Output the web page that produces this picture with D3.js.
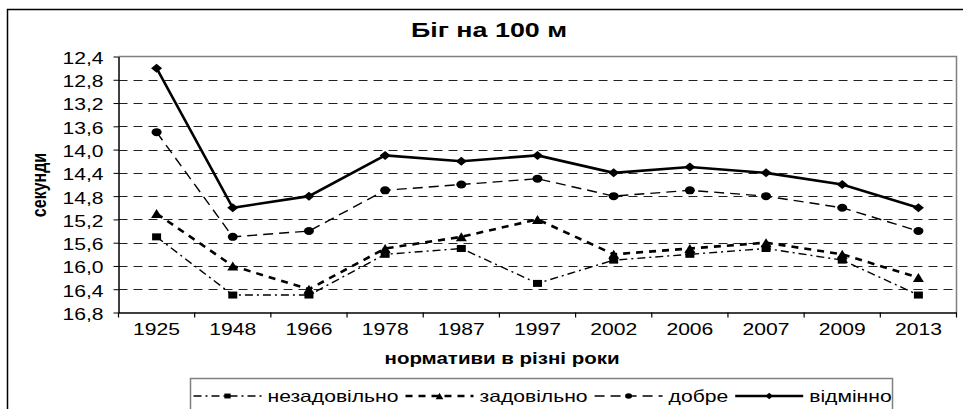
<!DOCTYPE html>
<html>
<head>
<meta charset="utf-8">
<script src="https://cdn.jsdelivr.net/npm/d3@7"></script>
<style>
  html, body { margin: 0; padding: 0; background: #fff; }
  svg { display: block; font-family: "Liberation Sans", Arial, sans-serif; }
</style>
</head>
<body>
<svg id="chart" width="963" height="409"></svg>
<script>
// Data (seconds, smaller = better)
const years = ["1925", "1948", "1966", "1978", "1987", "1997", "2002", "2006", "2007", "2009", "2013"];
const yTicks = [12.4, 12.8, 13.2, 13.6, 14.0, 14.4, 14.8, 15.2, 15.6, 16.0, 16.4, 16.8];
const seriesNames = ["незадовільно", "задовільно", "добре", "відмінно"];
const unsatisfactory = [15.5, 16.5, 16.5, 15.8, 15.7, 16.3, 15.9, 15.8, 15.7, 15.9, 16.5];
const satisfactory   = [15.1, 16.0, 16.4, 15.7, 15.5, 15.2, 15.8, 15.7, 15.6, 15.8, 16.2];
const good           = [13.7, 15.5, 15.4, 14.7, 14.6, 14.5, 14.8, 14.7, 14.8, 15.0, 15.4];
const excellent      = [12.6, 15.0, 14.8, 14.1, 14.2, 14.1, 14.4, 14.3, 14.4, 14.6, 15.0];

const SX = 1.28; // the source picture is stretched horizontally, text and markers too
const PLOT = { left: 118.5, right: 956.5, top: 56.5, bottom: 312.5 };

//Line and marker style for each series
const STYLES = [
  { values: unsatisfactory, dash: "8,4,2,4", width: 1.4, marker: "square", mw: 9, mh: 7 },
  { values: satisfactory,   dash: "7,6",     width: 2.6, marker: "triangle", mw: 11, mh: 9 },
  { values: good,           dash: "10,6",    width: 1.4, marker: "circle", mw: 10, mh: 8 },
  { values: excellent,      dash: null,      width: 2.6, marker: "diamond", mw: 11, mh: 9 }
];

const svg = d3.select("#chart");

//Outer chart frame (runs off the right/bottom edge)
svg.append("rect")
  .attr("x", 7.5).attr("y", 9.5)
  .attr("width", 1000).attr("height", 500)
  .attr("fill", "none")
  .attr("stroke", "#000")
  .attr("stroke-width", 1.5);

const x = d3.scaleBand().domain(years).range([PLOT.left, PLOT.right]).padding(0);
const y = d3.scaleLinear().domain([12.4, 16.8]).range([PLOT.top, PLOT.bottom]);
const cx = d => x(d) + x.bandwidth() / 2;
const fmt = d => d3.format(".1f")(d).replace(".", ",");

//Text that is widened like the original
function stretchedText(parent, px, py, str, size, weight, anchor) {
  return parent.append("text")
    .attr("transform", `translate(${px},${py}) scale(${SX},1)`)
    .attr("font-size", size)
    .attr("font-weight", weight || "normal")
    .attr("text-anchor", anchor || "middle")
    .attr("fill", "#000")
    .text(str);
}

function markerPath(type, w, h) {
  const a = w / 2, b = h / 2;
  if (type === "square") return `M${-a},${-b}H${a}V${b}H${-a}Z`;
  if (type === "triangle") return `M0,${-b}L${a},${b}L${-a},${b}Z`;
  if (type === "diamond") return `M0,${-b}L${a},0L0,${b}L${-a},0Z`;
  return "";
}

function drawMarker(parent, type, mx, my, w, h) {
  if (type === "circle") {
    parent.append("ellipse")
      .attr("cx", mx).attr("cy", my)
      .attr("rx", w / 2).attr("ry", h / 2)
      .attr("fill", "#000");
  } else {
    parent.append("path")
      .attr("transform", `translate(${mx},${my})`)
      .attr("d", markerPath(type, w, h))
      .attr("fill", "#000");
  }
}

//Title
stretchedText(svg, 489, 37, "Біг на 100 м", 21, "bold");

//Gridlines
svg.append("g")
  .selectAll("line")
  .data(yTicks.slice(1, -1))
  .enter()
  .append("line")
  .attr("x1", PLOT.left).attr("x2", PLOT.right)
  .attr("y1", d => Math.round(y(d)) + 0.5).attr("y2", d => Math.round(y(d)) + 0.5)
  .attr("stroke", "#222")
  .attr("stroke-width", 1)
  .attr("stroke-dasharray", "9,6");

//Plot area border (top and right)
svg.append("path")
  .attr("d", `M${PLOT.left},${PLOT.top}H${PLOT.right}V${PLOT.bottom}`)
  .attr("fill", "none")
  .attr("stroke", "#808080")
  .attr("stroke-width", 1.5);

//Y axis
const yAxis = d3.axisLeft(y)
  .tickValues(yTicks)
  .tickSize(5)
  .tickSizeOuter(0)
  .tickFormat(fmt);

const yG = svg.append("g")
  .attr("transform", `translate(${PLOT.left},0)`)
  .call(yAxis);
yG.select(".domain").attr("stroke", "#000").attr("stroke-width", 1.5);
yG.selectAll(".tick line").attr("stroke", "#000");
yG.selectAll(".tick text")
  .attr("font-family", null)
  .attr("font-size", 16.5)
  .attr("fill", "#000")
  .attr("x", -15 / SX)
  .attr("dy", "0.42em")
  .attr("transform", `scale(${SX},1)`);

//X axis: labels at centres, ticks between categories
const xAxis = d3.axisBottom(x).tickSize(0).tickSizeOuter(0).tickPadding(11);
const xG = svg.append("g")
  .attr("transform", `translate(0,${PLOT.bottom})`)
  .call(xAxis);
xG.select(".domain").attr("stroke", "#000").attr("stroke-width", 1.5);
xG.selectAll(".tick text")
  .attr("font-family", null)
  .attr("font-size", 16.5)
  .attr("fill", "#000")
  .attr("transform", `scale(${SX},1)`);

const boundaries = years.map(d => x(d)).concat([x(years[years.length - 1]) + x.bandwidth()]);
xG.selectAll(".sep")
  .data(boundaries)
  .enter()
  .append("line")
  .attr("class", "sep")
  .attr("x1", d => d).attr("x2", d => d)
  .attr("y1", 0).attr("y2", 5)
  .attr("stroke", "#000")
  .attr("stroke-width", 1.2);

//Axis titles
stretchedText(svg, 502, 364, "нормативи в різні роки", 16, "bold");
svg.append("text")
  .attr("transform", `translate(46,185) scale(${SX},1) rotate(-90)`)
  .attr("font-size", 16)
  .attr("font-weight", "bold")
  .attr("text-anchor", "middle")
  .text("секунди");

//Series lines and markers
const line = d3.line()
  .x((d, i) => cx(years[i]))
  .y(d => y(d));

STYLES.forEach(s => {
  const g = svg.append("g");
  g.append("path")
    .datum(s.values)
    .attr("d", line)
    .attr("fill", "none")
    .attr("stroke", "#000")
    .attr("stroke-width", s.width)
    .attr("stroke-dasharray", s.dash);
  s.values.forEach((v, i) => drawMarker(g, s.marker, cx(years[i]), y(v), s.mw, s.mh));
});

//Legend
const LEG = { x: 190.5, y: 378.5, w: 702 };
const leg = svg.append("g");
leg.append("rect")
  .attr("x", LEG.x).attr("y", LEG.y)
  .attr("width", LEG.w).attr("height", 100)
  .attr("fill", "#fff")
  .attr("stroke", "#808080")
  .attr("stroke-width", 1.5);

let lx = LEG.x + 3;
const ly = 396;
seriesNames.forEach((name, i) => {
  const s = STYLES[i];
  const symW = 68;
  leg.append("line")
    .attr("x1", lx).attr("x2", lx + symW)
    .attr("y1", ly).attr("y2", ly)
    .attr("stroke", "#000")
    .attr("stroke-width", s.width)
    .attr("stroke-dasharray", s.dash);
  drawMarker(leg, s.marker, lx + symW / 2, ly, s.mw * 0.7, s.mh * 0.7);
  const t = stretchedText(leg, lx + symW + 6, 401.5, name, 16.5, "normal", "start");
  lx += symW + 6 + t.node().getComputedTextLength() * SX + 7;
});
</script>
</body>
</html>
